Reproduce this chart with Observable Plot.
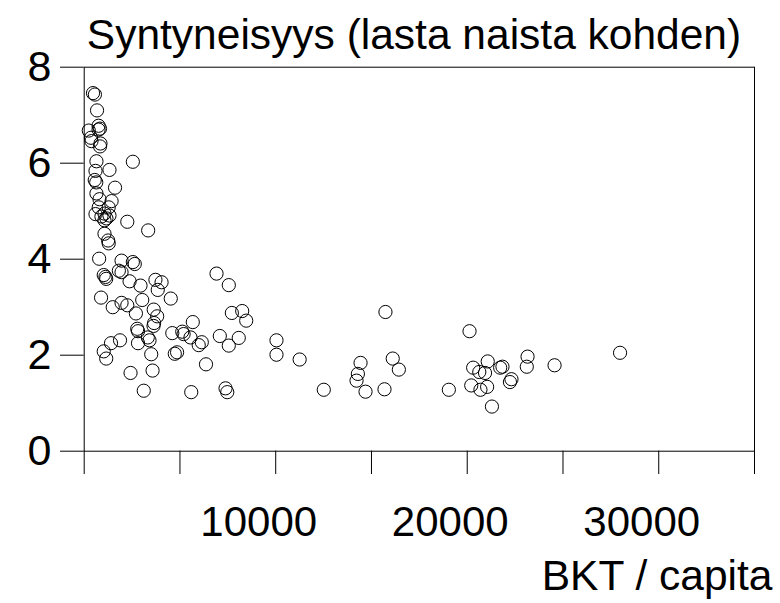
<!DOCTYPE html>
<html><head><meta charset="utf-8">
<script src="https://cdn.jsdelivr.net/npm/d3@7"></script>
<script src="https://cdn.jsdelivr.net/npm/@observablehq/plot@0.6"></script>
<style>
body{margin:0;background:#fff;font-family:"Liberation Sans",Arial,Helvetica,sans-serif;}
#title{position:relative;top:10px;z-index:2;width:780px;box-sizing:border-box;padding-left:48px;height:50px;font-size:42.5px;line-height:50px;text-align:center;color:#000;white-space:nowrap;overflow:visible;}
#chart svg{background:transparent;}
</style></head><body>
<div id="title">Syntyneisyys (lasta naista kohden)</div>
<div id="chart"></div>
<script>
const gdp = [
  460, 560, 670, 240, 750, 825, 750, 355, 380, 850,
  825, 640, 2540, 590, 1320, 550, 630, 1610, 640, 800,
  1430, 760, 1280, 590, 900, 1060, 1160, 1320, 1060, 2250,
  3340, 1060, 1250, 1280, 780, 1950, 2540, 2640, 1020, 1110,
  1150, 1810, 1950, 2370, 2940, 3720, 4040, 3840, 880, 1490,
  1950, 2250, 2700, 3030, 4520, 3630, 3810, 3650, 3620, 2770,
  2810, 3320, 3410, 4600, 5120, 5190, 5550, 5670, 5980, 6140,
  7080, 7550, 8070, 6910, 7550, 7710, 8250, 8460, 1870, 1400,
  1020, 1150, 2810, 3500, 4850, 4730, 6360, 2420, 3570, 3110,
  5590, 7380, 7470, 10040, 10040, 11250, 12510, 15730, 14430, 14290,
  14220, 14690, 15680, 16110, 16430, 20120, 19040, 20310, 20630, 20930,
  21070, 20210, 20690, 21040, 21290, 21720, 21840, 22310, 22230, 23150,
  23110, 24560, 27980
];
const fertility = [
  7.46, 7.43, 7.10, 6.68, 6.78, 6.72, 6.70, 6.53, 6.46, 6.41,
  6.35, 6.04, 6.03, 5.84, 5.86, 5.65, 5.60, 5.49, 5.37, 5.25,
  5.21, 5.08, 5.08, 4.94, 4.89, 4.95, 4.85, 4.91, 4.81, 4.78,
  4.60, 4.53, 4.39, 4.33, 4.01, 3.97, 3.94, 3.90, 3.67, 3.63,
  3.59, 3.76, 3.73, 3.54, 3.45, 3.57, 3.52, 3.36, 3.20, 3.00,
  3.09, 3.04, 2.87, 3.15, 3.18, 2.95, 2.81, 2.67, 2.61, 2.55,
  2.50, 2.37, 2.31, 2.46, 2.49, 2.44, 2.37, 2.69, 2.21, 2.27,
  2.40, 2.20, 2.36, 3.70, 3.46, 2.88, 2.92, 2.72, 2.31, 2.25,
  2.08, 1.93, 2.25, 2.02, 2.06, 2.03, 1.81, 1.63, 1.68, 1.26,
  1.23, 1.31, 1.23, 2.31, 2.01, 1.91, 1.28, 2.90, 1.84, 1.61,
  1.47, 1.24, 1.29, 1.93, 1.70, 2.50, 1.28, 1.74, 1.65, 1.63,
  1.87, 1.37, 1.28, 1.34, 0.93, 1.74, 1.76, 1.50, 1.44, 1.97,
  1.76, 1.79, 2.05
];
const xTicks = [0, 5000, 10000, 15000, 20000, 25000, 30000, 35000];
const xTickLabels = [10000, 20000, 30000];
const yTicks = [0, 2, 4, 6, 8];
const xLabel = "BKT / capita";

const data = gdp.map((g, i) => ({gdp: g, fert: fertility[i]}));

const chart = Plot.plot({
  width: 780,
  height: 553,
  marginTop: 16.7,
  marginBottom: 152.3,
  marginLeft: 83.7,
  marginRight: 26,
  style: {fontFamily: "'Liberation Sans', Arial, Helvetica, sans-serif", fontSize: "42px", background: "transparent", color: "#000", overflow: "visible"},
  x: {domain: [0, 35000]},
  y: {domain: [0, 8]},
  marks: [
    Plot.frame({stroke: "#000", strokeWidth: 1}),
    Plot.axisY({ticks: yTicks, tickSize: 23.7, tickPadding: 9, fontSize: 43, label: null, stroke: "#000", strokeOpacity: 1, tickFormat: d => String(d)}),
    Plot.axisX({ticks: xTicks, tickSize: 23.3, tickFormat: () => "", label: null, stroke: "#000", strokeOpacity: 1}),
    Plot.axisX({ticks: xTickLabels, tickSize: 0, tickPadding: 55, fontSize: 42, dx: -17, label: null, tickFormat: d => String(d)}),
    Plot.dot(data, {x: "gdp", y: "fert", r: 6.6, stroke: "#000", strokeWidth: 1, fill: "none"}),
    Plot.text([xLabel], {frameAnchor: "bottom-right", dx: 18, dy: 139, textAnchor: "end", lineAnchor: "bottom", fontSize: 42.5, fill: "#000"})
  ]
});
document.getElementById("chart").appendChild(chart);
</script>
</body></html>
